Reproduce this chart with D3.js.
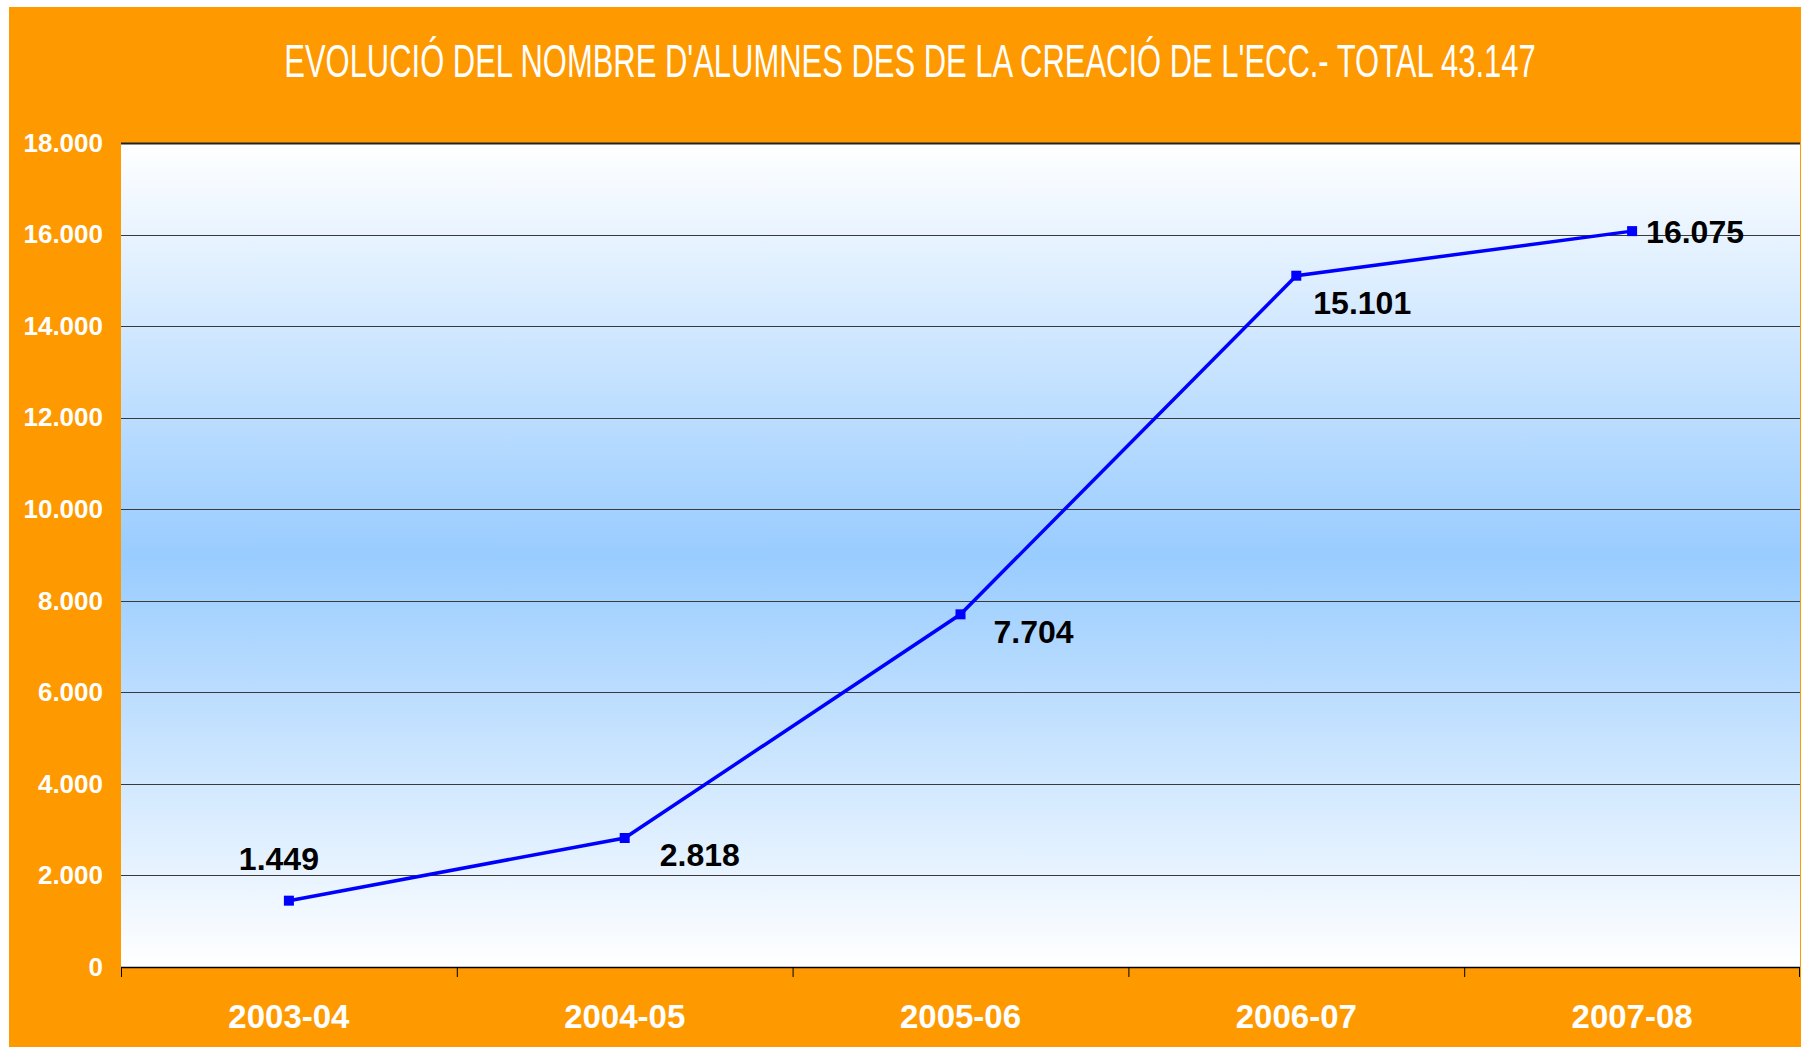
<!DOCTYPE html>
<html>
<head>
<meta charset="utf-8">
<script src="https://cdn.jsdelivr.net/npm/d3@7"></script>
<style>
  body { margin: 0; background: #ffffff; }
  svg { display: block; }
</style>
</head>
<body>
<div id="chart"></div>
<script>
const title = "EVOLUCIÓ DEL NOMBRE D'ALUMNES DES DE LA CREACIÓ DE L'ECC.- TOTAL 43.147";
const courses = ["2003-04", "2004-05", "2005-06", "2006-07", "2007-08"];
const students = [1449, 2818, 7704, 15101, 16075];
const yTicks = [0, 2000, 4000, 6000, 8000, 10000, 12000, 14000, 16000, 18000];

// where each value label sits relative to its point (dx, dy of baseline)
const labelPlace = [
    {dx: -10, dy: -31, anchor: "middle"},
    {dx: 35, dy: 28, anchor: "start"},
    {dx: 33, dy: 29, anchor: "start"},
    {dx: 17, dy: 38, anchor: "start"},
    {dx: 14, dy: 12, anchor: "start"}
];

const W = 1801, H = 1047;
const margin = {top: 143, right: 1, bottom: 80, left: 121};
const width = W - margin.left - margin.right;
const height = 967 - margin.top;

const fmt = v => d3.format(",")(v).replace(/,/g, ".");

const svg = d3.select("#chart").append("svg")
    .attr("width", W)
    .attr("height", H);

// orange frame
svg.append("rect")
    .attr("x", 9).attr("y", 7)
    .attr("width", W - 9).attr("height", H - 7)
    .attr("fill", "#ff9900");

const grad = svg.append("defs").append("linearGradient")
    .attr("id", "bg")
    .attr("x1", 0).attr("y1", 0).attr("x2", 0).attr("y2", 1);
grad.append("stop").attr("offset", "0%").attr("stop-color", "#ffffff");
grad.append("stop").attr("offset", "50%").attr("stop-color", "#99ccff");
grad.append("stop").attr("offset", "100%").attr("stop-color", "#ffffff");

// title: narrow face, squeezed horizontally to the reference width
const tg = svg.append("g");
const tt = tg.append("text")
    .attr("x", 0).attr("y", 0)
    .attr("text-anchor", "middle")
    .attr("fill", "#ffffff")
    .attr("font-family", "'Liberation Sans Narrow', 'Liberation Sans', Arial, sans-serif")
    .attr("font-size", 47)
    .text(title);
const tw = tt.node().getComputedTextLength();
tg.attr("transform", `translate(910,77) scale(${1252 / tw},1)`);

const g = svg.append("g")
    .attr("transform", `translate(${margin.left},${margin.top})`);

const x = d3.scaleBand()
    .domain(courses)
    .range([0, width]);

const y = d3.scaleLinear()
    .domain([0, 18000])
    .range([height, 0]);

g.append("rect")
    .attr("width", width)
    .attr("height", height)
    .attr("fill", "url(#bg)");

// gridlines
g.append("g")
    .selectAll("line")
    .data(yTicks.filter(d => d > 0))
    .join("line")
        .attr("x1", 0).attr("x2", width)
        .attr("y1", d => Math.round(y(d)) + 0.5)
        .attr("y2", d => Math.round(y(d)) + 0.5)
        .attr("stroke", d => d == 18000 ? "#222222" : "#3a3a3a")
        .attr("stroke-width", d => d == 18000 ? 2 : 1);

// y axis labels
const yAxis = g.append("g")
    .call(d3.axisLeft(y).tickValues(yTicks).tickFormat(fmt).tickSize(0).tickPadding(18));
yAxis.select(".domain").remove();
yAxis.selectAll("text")
    .attr("fill", "#ffffff")
    .attr("font-family", "'Liberation Sans', Arial, sans-serif")
    .attr("font-weight", "bold")
    .attr("font-size", 26);

// x axis with ticks on band edges
const xAxis = g.append("g")
    .attr("transform", `translate(0,${height})`);
xAxis.append("line")
    .attr("x1", 0).attr("x2", width)
    .attr("y1", 0.5).attr("y2", 0.5)
    .attr("stroke", "#000000")
    .attr("stroke-width", 1.5);
xAxis.selectAll(".tk")
    .data(courses.concat(["end"]))
    .join("line")
        .attr("class", "tk")
        .attr("x1", (d, i) => i < courses.length ? x(d) + 0.5 : width - 0.5)
        .attr("x2", (d, i) => i < courses.length ? x(d) + 0.5 : width - 0.5)
        .attr("y1", 0).attr("y2", 10)
        .attr("stroke", "#000000")
        .attr("stroke-width", 1);
xAxis.selectAll(".lbl")
    .data(courses)
    .join("text")
        .attr("class", "lbl")
        .attr("x", d => x(d) + x.bandwidth() / 2)
        .attr("y", 61)
        .attr("text-anchor", "middle")
        .attr("fill", "#ffffff")
        .attr("font-family", "'Liberation Sans', Arial, sans-serif")
        .attr("font-weight", "bold")
        .attr("font-size", 33)
        .text(d => d);

const pts = courses.map((c, i) => ({course: c, value: students[i], i: i}));
const cx = d => x(d.course) + x.bandwidth() / 2;

const line = d3.line()
    .x(cx)
    .y(d => y(d.value));

g.append("path")
    .datum(pts)
    .attr("fill", "none")
    .attr("stroke", "#0000ff")
    .attr("stroke-width", 3.5)
    .attr("d", line);

g.selectAll(".mk")
    .data(pts)
    .join("rect")
        .attr("class", "mk")
        .attr("x", d => cx(d) - 5)
        .attr("y", d => y(d.value) - 5)
        .attr("width", 10).attr("height", 10)
        .attr("fill", "#0000ff");

g.selectAll(".val")
    .data(pts)
    .join("text")
        .attr("class", "val")
        .attr("x", d => cx(d) + labelPlace[d.i].dx)
        .attr("y", d => y(d.value) + labelPlace[d.i].dy)
        .attr("text-anchor", d => labelPlace[d.i].anchor)
        .attr("fill", "#000000")
        .attr("font-family", "'Liberation Sans', Arial, sans-serif")
        .attr("font-weight", "bold")
        .attr("font-size", 32)
        .text(d => fmt(d.value));
</script>
</body>
</html>
